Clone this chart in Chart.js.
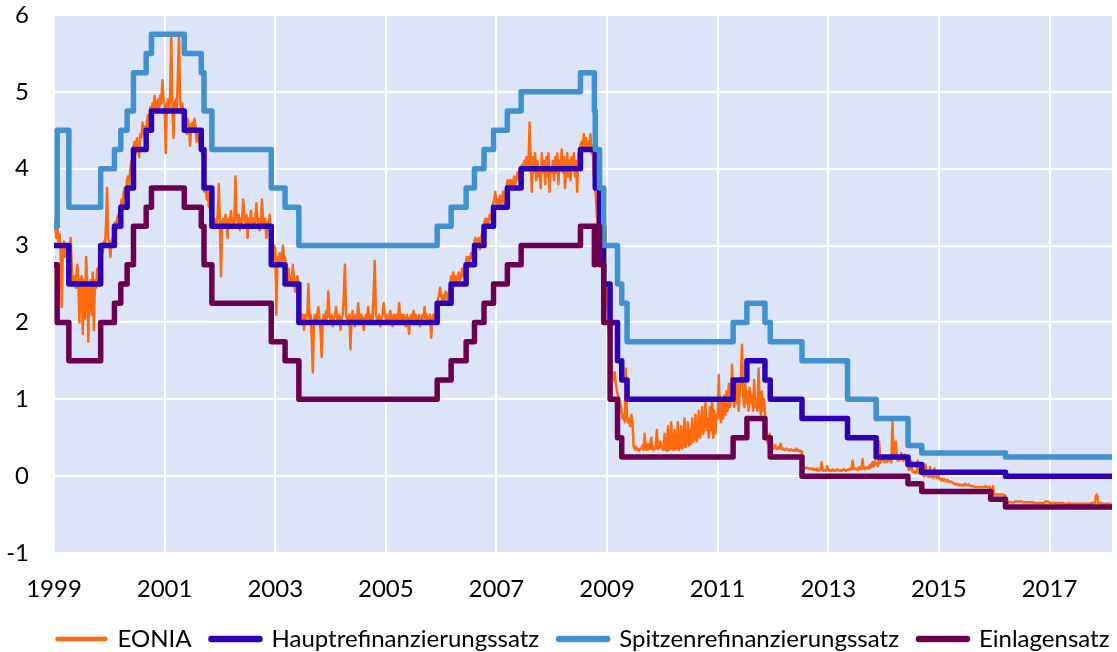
<!DOCTYPE html>
<html>
<head>
<meta charset="utf-8">
<script src="https://cdn.jsdelivr.net/npm/chart.js@4.4.1/dist/chart.umd.min.js"></script>
<style>
  html, body { margin: 0; padding: 0; background: #fff; overflow: hidden; }
  canvas { display: block; }
</style>
</head>
<body>
<canvas id="ratesChart" width="1117" height="652"></canvas>
<script>
// Axis
const xMin = 1999;
const xMax = 2018.13;
const yearTicks = [1999, 2001, 2003, 2005, 2007, 2009, 2011, 2013, 2015, 2017];

// Hauptrefinanzierungssatz (change dates and new rate)
const mroDates = ['1999-01-01', '1999-04-09', '1999-11-05', '2000-02-04', '2000-03-17', '2000-04-28', '2000-06-09',
  '2000-09-01', '2000-10-06', '2001-05-11', '2001-08-31', '2001-09-18', '2001-11-09', '2002-12-06', '2003-03-07',
  '2003-06-06', '2005-12-06', '2006-03-08', '2006-06-15', '2006-08-09', '2006-10-11', '2006-12-13', '2007-03-14',
  '2007-06-13', '2008-07-09', '2008-10-15', '2008-11-12', '2008-12-10', '2009-01-21', '2009-03-11', '2009-04-08',
  '2009-05-13', '2011-04-13', '2011-07-13', '2011-11-09', '2011-12-14', '2012-07-11', '2013-05-08', '2013-11-13',
  '2014-06-11', '2014-09-10', '2016-03-16'];
const mroRates = [3.00, 2.50, 3.00, 3.25, 3.50, 3.75, 4.25, 4.50, 4.75, 4.50, 4.25, 3.75, 3.25, 2.75, 2.50, 2.00,
  2.25, 2.50, 2.75, 3.00, 3.25, 3.50, 3.75, 4.00, 4.25, 3.75, 3.25, 2.50, 2.00, 1.50, 1.25, 1.00, 1.25, 1.50, 1.25,
  1.00, 0.75, 0.50, 0.25, 0.15, 0.05, 0.00];

// Spitzenrefinanzierungssatz
const mlfDates = ['1999-01-01', '1999-01-22', '1999-04-09', '1999-11-05', '2000-02-04', '2000-03-17', '2000-04-28',
  '2000-06-09', '2000-09-01', '2000-10-06', '2001-05-11', '2001-08-31', '2001-09-18', '2001-11-09', '2002-12-06',
  '2003-03-07', '2003-06-06', '2005-12-06', '2006-03-08', '2006-06-15', '2006-08-09', '2006-10-11', '2006-12-13',
  '2007-03-14', '2007-06-13', '2008-07-09', '2008-10-09', '2008-10-15', '2008-11-12', '2008-12-10', '2009-03-11',
  '2009-04-08', '2009-05-13', '2011-04-13', '2011-07-13', '2011-11-09', '2011-12-14', '2012-07-11', '2013-05-08',
  '2013-11-13', '2014-06-11', '2014-09-10', '2016-03-16'];
const mlfRates = [3.25, 4.50, 3.50, 4.00, 4.25, 4.50, 4.75, 5.25, 5.50, 5.75, 5.50, 5.25, 4.75, 4.25, 3.75, 3.50,
  3.00, 3.25, 3.50, 3.75, 4.00, 4.25, 4.50, 4.75, 5.00, 5.25, 4.75, 4.25, 3.75, 3.00, 2.50, 2.25, 1.75, 2.00, 2.25,
  2.00, 1.75, 1.50, 1.00, 0.75, 0.40, 0.30, 0.25];

// Einlagensatz
const dfDates = ['1999-01-01', '1999-01-22', '1999-04-09', '1999-11-05', '2000-02-04', '2000-03-17', '2000-04-28',
  '2000-06-09', '2000-09-01', '2000-10-06', '2001-05-11', '2001-08-31', '2001-09-18', '2001-11-09', '2002-12-06',
  '2003-03-07', '2003-06-06', '2005-12-06', '2006-03-08', '2006-06-15', '2006-08-09', '2006-10-11', '2006-12-13',
  '2007-03-14', '2007-06-13', '2008-07-09', '2008-10-09', '2008-10-15', '2008-11-12', '2008-12-10', '2009-01-21',
  '2009-03-11', '2009-04-08', '2011-04-13', '2011-07-13', '2011-11-09', '2011-12-14', '2012-07-11', '2014-06-11',
  '2014-09-10', '2015-12-09', '2016-03-16'];
const dfRates = [2.75, 2.00, 1.50, 2.00, 2.25, 2.50, 2.75, 3.25, 3.50, 3.75, 3.50, 3.25, 2.75, 2.25, 1.75, 1.50,
  1.00, 1.25, 1.50, 1.75, 2.00, 2.25, 2.50, 2.75, 3.00, 3.25, 2.75, 3.25, 2.75, 2.00, 1.00, 0.50, 0.25, 0.50, 0.75,
  0.50, 0.25, 0.00, -0.10, -0.20, -0.30, -0.40];

// EONIA, one value every 0.02 year (50 per row = one year)
const eoniaStart = 1999;
const eoniaStep = 0.02;
const eoniaValues = [
  // 1999
  3.20, 3.33, 3.10, 3.25, 3.05, 3.15, 2.90, 2.20, 3.00, 3.05, 2.85, 3.00, 2.95, 2.60, 2.55, 3.10, 2.75, 2.50, 2.55, 2.60,
  2.45, 2.75, 2.55, 2.00, 2.55, 2.60, 1.85, 2.55, 2.05, 2.85, 2.55, 1.75, 2.50, 2.55, 2.10, 2.65, 1.90, 2.55, 2.45, 2.70,
  2.50, 2.85, 2.90, 3.00, 2.90, 3.05, 3.00, 3.25, 3.75, 3.10,
  // 2000
  3.05, 2.85, 3.05, 3.10, 3.15, 3.30, 3.20, 3.35, 3.40, 3.30, 3.45, 3.60, 3.50, 3.70, 3.75, 3.60, 3.85, 3.90, 3.80, 4.00,
  4.10, 3.95, 4.30, 4.35, 4.20, 4.40, 4.30, 4.15, 4.45, 4.40, 4.60, 4.45, 4.55, 4.40, 4.60, 4.70, 4.55, 4.80, 4.70, 4.85,
  4.80, 4.95, 4.75, 4.85, 4.90, 4.75, 4.95, 4.85, 5.15, 4.90,
  // 2001
  4.85, 4.20, 4.80, 4.90, 4.75, 4.95, 5.70, 4.85, 4.40, 4.85, 4.90, 4.75, 5.20, 5.75, 4.90, 4.75, 4.85, 4.70, 4.55, 4.60,
  4.45, 4.65, 4.55, 4.30, 4.55, 4.60, 4.50, 4.65, 4.55, 4.35, 4.50, 4.45, 4.30, 4.25, 4.20, 4.10, 3.70, 3.80, 3.60, 3.70,
  3.50, 3.65, 3.40, 3.35, 3.30, 3.35, 3.25, 3.30, 3.40, 3.80,
  // 2002
  3.30, 2.60, 3.30, 3.35, 3.25, 3.40, 3.30, 3.10, 3.35, 3.30, 3.45, 3.30, 3.35, 3.25, 3.90, 3.35, 3.30, 3.40, 3.20, 3.35,
  3.30, 3.60, 3.35, 3.30, 3.40, 3.10, 3.35, 3.30, 3.45, 3.30, 3.35, 3.25, 3.35, 3.55, 3.30, 3.35, 3.20, 3.30, 3.60, 3.30,
  3.25, 3.35, 3.10, 3.30, 3.25, 3.40, 3.10, 2.90, 2.85, 3.00,
  // 2003
  2.95, 2.10, 2.85, 2.80, 2.90, 2.75, 2.85, 3.00, 2.80, 2.85, 2.60, 2.55, 2.70, 2.50, 2.60, 2.55, 2.75, 2.55, 2.40, 2.55,
  2.60, 2.50, 2.15, 2.10, 2.05, 2.10, 1.90, 2.10, 2.05, 2.10, 2.50, 2.05, 2.10, 1.80, 1.35, 2.05, 2.10, 2.00, 2.10, 2.20,
  2.05, 1.90, 1.55, 2.05, 2.10, 2.00, 2.15, 2.05, 2.40, 2.10,
  // 2004
  2.05, 2.10, 1.95, 2.05, 2.10, 2.20, 2.05, 2.00, 2.10, 1.90, 2.05, 2.10, 2.35, 2.75, 2.10, 2.05, 2.00, 2.10, 1.65, 2.05,
  2.15, 2.05, 1.95, 2.10, 2.05, 2.25, 2.05, 2.00, 2.10, 2.05, 1.90, 2.05, 2.10, 2.05, 2.20, 2.05, 2.00, 2.10, 2.05, 2.40,
  2.80, 2.10, 2.05, 2.00, 2.10, 1.95, 2.05, 2.10, 2.25, 2.10,
  // 2005
  2.05, 2.10, 2.00, 2.05, 2.15, 2.05, 1.95, 2.10, 2.05, 2.10, 2.00, 2.05, 2.25, 2.05, 2.10, 2.00, 2.10, 2.05, 1.95, 2.10,
  2.05, 1.85, 2.05, 2.10, 2.05, 2.15, 2.05, 2.10, 2.00, 2.05, 2.10, 1.95, 2.05, 2.10, 2.05, 2.20, 2.05, 2.10, 2.00, 2.05,
  2.10, 1.80, 2.05, 2.10, 2.05, 2.15, 2.10, 2.30, 2.35, 2.45,
  // 2006
  2.35, 2.30, 2.35, 2.25, 2.40, 2.35, 2.30, 2.40, 2.45, 2.60, 2.55, 2.65, 2.55, 2.60, 2.50, 2.60, 2.65, 2.55, 2.60, 2.70,
  2.60, 2.75, 2.70, 2.85, 2.75, 2.85, 2.80, 2.90, 2.85, 2.95, 3.05, 3.10, 3.00, 3.05, 3.10, 2.95, 3.10, 3.15, 3.20, 3.30,
  3.35, 3.25, 3.35, 3.30, 3.40, 3.35, 3.45, 3.55, 3.60, 3.70,
  // 2007
  3.55, 3.60, 3.55, 3.65, 3.55, 3.60, 3.70, 3.55, 3.65, 3.75, 3.85, 3.80, 3.85, 3.75, 3.85, 3.80, 3.90, 3.80, 3.85, 3.95,
  3.85, 4.00, 3.95, 4.05, 4.00, 4.10, 4.05, 4.15, 4.00, 4.10, 4.60, 4.05, 3.70, 4.15, 3.95, 4.20, 3.85, 4.10, 3.90, 4.00,
  3.75, 4.20, 3.95, 4.10, 3.80, 4.15, 3.90, 4.20, 3.70, 4.00,
  // 2008
  3.95, 4.10, 3.85, 4.15, 3.95, 4.20, 3.80, 4.10, 4.00, 4.25, 3.95, 4.15, 3.75, 4.05, 4.20, 3.90, 4.10, 3.85, 4.15, 4.00,
  4.20, 3.90, 4.10, 3.70, 4.20, 4.05, 4.30, 4.35, 4.25, 4.45, 4.30, 4.40, 4.25, 4.35, 4.30, 4.45, 4.20, 4.30, 3.90, 3.80,
  3.60, 3.35, 3.25, 3.15, 3.05, 3.20, 2.85, 2.50, 2.30, 2.50,
  // 2009
  2.35, 2.00, 1.80, 1.65, 1.45, 1.30, 1.25, 1.35, 1.20, 1.10, 1.05, 1.00, 0.95, 0.85, 0.75, 0.80, 0.70, 1.40, 0.75, 0.70,
  0.75, 0.65, 0.80, 0.70, 0.40, 0.35, 0.38, 0.34, 0.36, 0.33, 0.35, 0.36, 0.40, 0.34, 0.55, 0.35, 0.34, 0.42, 0.35, 0.36,
  0.50, 0.35, 0.34, 0.38, 0.36, 0.60, 0.35, 0.37, 0.45, 0.41,
  // 2010
  0.35, 0.34, 0.55, 0.35, 0.33, 0.65, 0.34, 0.36, 0.70, 0.35, 0.34, 0.60, 0.35, 0.36, 0.70, 0.34, 0.38, 0.65, 0.36, 0.40,
  0.75, 0.38, 0.45, 0.70, 0.40, 0.60, 0.42, 0.75, 0.45, 0.50, 0.80, 0.45, 0.55, 0.85, 0.50, 0.60, 0.90, 0.55, 0.70, 0.95,
  0.60, 0.75, 0.50, 0.90, 0.60, 1.00, 0.50, 0.85, 0.55, 0.80,
  // 2011
  0.75, 1.32, 0.80, 0.70, 0.95, 0.75, 1.05, 0.80, 1.10, 0.85, 1.20, 0.90, 1.00, 1.45, 1.05, 0.90, 1.15, 0.95, 1.25, 0.85,
  1.10, 1.30, 1.71, 1.05, 0.90, 1.20, 0.95, 1.10, 0.85, 1.15, 0.95, 1.05, 0.85, 1.25, 0.90, 1.00, 0.85, 1.40, 0.95, 0.80,
  1.10, 0.85, 1.00, 0.75, 0.60, 0.45, 0.40, 0.55, 0.40, 0.45,
  // 2012
  0.38, 0.36, 0.40, 0.37, 0.35, 0.38, 0.36, 0.42, 0.35, 0.36, 0.34, 0.35, 0.36, 0.35, 0.34, 0.33, 0.35, 0.34, 0.33, 0.34,
  0.33, 0.36, 0.33, 0.34, 0.32, 0.33, 0.32, 0.14, 0.12, 0.11, 0.10, 0.11, 0.10, 0.09, 0.10, 0.09, 0.10, 0.08, 0.09, 0.08,
  0.10, 0.07, 0.08, 0.09, 0.18, 0.08, 0.07, 0.08, 0.07, 0.13,
  // 2013
  0.08, 0.07, 0.08, 0.07, 0.09, 0.07, 0.08, 0.07, 0.09, 0.08, 0.07, 0.08, 0.07, 0.08, 0.09, 0.08, 0.07, 0.08, 0.09, 0.08,
  0.10, 0.09, 0.20, 0.09, 0.10, 0.09, 0.10, 0.08, 0.12, 0.10, 0.09, 0.22, 0.10, 0.09, 0.11, 0.10, 0.12, 0.10, 0.15, 0.12,
  0.18, 0.13, 0.20, 0.15, 0.17, 0.13, 0.45, 0.17, 0.20, 0.25,
  // 2014
  0.20, 0.18, 0.22, 0.19, 0.25, 0.20, 0.22, 0.18, 0.70, 0.25, 0.23, 0.45, 0.24, 0.20, 0.25, 0.21, 0.30, 0.25, 0.20, 0.28,
  0.23, 0.26, 0.12, 0.08, 0.10, 0.20, 0.06, 0.05, 0.06, 0.04, 0.05, 0.20, 0.04, 0.03, 0.05, 0.02, 0.01, 0.00, 0.15, 0.01,
  0.00, -0.01, 0.12, -0.01, 0.00, -0.02, 0.10, 0.00, -0.02, 0.05,
  // 2015
  -0.02, -0.04, -0.05, -0.03, -0.06, -0.04, -0.05, -0.07, -0.05, -0.07, -0.08, -0.07, -0.08, -0.09, -0.10, -0.11, -0.10, -0.11, -0.12, -0.11,
  -0.12, -0.12, -0.11, -0.12, -0.10, -0.12, -0.12, -0.11, -0.12, -0.13, -0.13, -0.13, -0.14, -0.14, -0.14, -0.14, -0.14, -0.14, -0.14, -0.14,
  -0.14, -0.14, -0.13, -0.14, -0.14, -0.14, -0.14, -0.20, -0.24, -0.13,
  // 2016
  -0.24, -0.24, -0.24, -0.24, -0.24, -0.24, -0.24, -0.24, -0.24, -0.25, -0.25, -0.31, -0.34, -0.34, -0.34, -0.34, -0.34, -0.35, -0.34, -0.33,
  -0.33, -0.33, -0.33, -0.33, -0.33, -0.33, -0.34, -0.34, -0.34, -0.34, -0.34, -0.34, -0.34, -0.34, -0.34, -0.34, -0.35, -0.35, -0.35, -0.35,
  -0.35, -0.35, -0.35, -0.35, -0.35, -0.35, -0.33, -0.33, -0.33, -0.33,
  // 2017
  -0.35, -0.35, -0.35, -0.35, -0.35, -0.35, -0.35, -0.35, -0.35, -0.35, -0.36, -0.35, -0.35, -0.36, -0.36, -0.36, -0.36, -0.36, -0.35, -0.36,
  -0.36, -0.36, -0.36, -0.36, -0.36, -0.36, -0.36, -0.36, -0.36, -0.36, -0.36, -0.36, -0.36, -0.36, -0.36, -0.36, -0.36, -0.36, -0.35, -0.35,
  -0.35, -0.35, -0.25, -0.24, -0.35, -0.35, -0.35, -0.35, -0.36, -0.36,
  // 2018
  -0.37, -0.36, -0.36, -0.36, -0.36, -0.36, -0.36
];

const seriesNames = ['EONIA', 'Hauptrefinanzierungssatz', 'Spitzenrefinanzierungssatz', 'Einlagensatz'];
const seriesColors = ['#ff6a0e', '#2f00b3', '#4191cf', '#6b0050'];

function toYear(s) {
  const [y, m, d] = s.split('-').map(Number);
  const start = Date.UTC(y, 0, 1);
  const end = Date.UTC(y + 1, 0, 1);
  return y + (Date.UTC(y, m - 1, d) - start) / (end - start);
}

function stepPoints(dates, rates) {
  const pts = dates.map((d, i) => ({ x: toYear(d), y: rates[i] }));
  pts.push({ x: xMax, y: rates[rates.length - 1] });
  return pts;
}

const eoniaPoints = eoniaValues.map((v, i) => ({ x: eoniaStart + i * eoniaStep, y: v }));

const font = { family: 'Lato', size: 24 };

// light blue plot area
const plotBackground = {
  id: 'plotBackground',
  beforeDraw(chart) {
    const { ctx, chartArea: a } = chart;
    ctx.save();
    ctx.fillStyle = '#dbe5f7';
    ctx.fillRect(a.left, a.top, a.right - a.left, a.bottom - a.top);
    ctx.restore();
  }
};

// centre the legend row under the plot and push it down to the bottom edge
const legendNudge = {
  id: 'legendNudge',
  afterLayout(chart) {
    const l = chart.legend;
    const pad = l.options.labels.padding;
    const rowWidth = l.lineWidths[0];
    const cx = (chart.chartArea.left + chart.chartArea.right) / 2;
    const start = cx - (rowWidth - pad) / 2;
    l.left = start - pad;
    l.right = start + rowWidth + 1;
    l.top += 9; l.bottom += 9;
  }
};

const stepStyle = {
  borderWidth: 5.5,
  pointRadius: 0,
  stepped: true,
  borderJoinStyle: 'round',
  borderCapStyle: 'round',
  fill: false
};

new Chart(document.getElementById('ratesChart'), {
  type: 'line',
  data: {
    datasets: [
      { label: seriesNames[0], data: eoniaPoints, borderColor: seriesColors[0], backgroundColor: seriesColors[0],
        borderWidth: 2.5, pointRadius: 0, borderJoinStyle: 'round', order: 4 },
      { label: seriesNames[1], data: stepPoints(mroDates, mroRates), borderColor: seriesColors[1],
        backgroundColor: seriesColors[1], ...stepStyle, order: 3 },
      { label: seriesNames[2], data: stepPoints(mlfDates, mlfRates), borderColor: seriesColors[2],
        backgroundColor: seriesColors[2], ...stepStyle, order: 2 },
      { label: seriesNames[3], data: stepPoints(dfDates, dfRates), borderColor: seriesColors[3],
        backgroundColor: seriesColors[3], ...stepStyle, order: 1 }
    ]
  },
  options: {
    responsive: false,
    animation: false,
    parsing: false,
    layout: { padding: { left: 0, right: 5, top: 15, bottom: 0 } },
    scales: {
      x: {
        type: 'linear',
        min: xMin,
        max: xMax,
        afterBuildTicks: s => { s.ticks = yearTicks.map(v => ({ value: v })); },
        afterFit: s => { s.height = 45; },
        ticks: { autoSkip: false, maxRotation: 0, padding: 22, color: '#000', font, callback: v => String(v) },
        grid: { color: '#ffffff', lineWidth: 2, drawTicks: false },
        border: { display: false }
      },
      y: {
        min: -1,
        max: 6,
        afterFit: s => { s.width = 54; s.paddingTop = 0; s.paddingBottom = 0; },
        ticks: { stepSize: 1, padding: 25, color: '#000', font, callback: v => String(v) },
        grid: { color: '#ffffff', lineWidth: 2, drawTicks: false },
        border: { display: false }
      }
    },
    plugins: {
      tooltip: { enabled: false },
      legend: {
        position: 'bottom',
        labels: {
          color: '#000',
          font,
          padding: 20,
          usePointStyle: true,
          pointStyleWidth: 48,
          sort: (a, b) => a.datasetIndex - b.datasetIndex,
          generateLabels(chart) {
            return Chart.defaults.plugins.legend.labels.generateLabels(chart).map(item => ({
              ...item,
              pointStyle: 'line',
              lineCap: 'round',
              lineWidth: item.datasetIndex === 0 ? 4.5 : 6.5
            }));
          }
        }
      }
    }
  },
  plugins: [plotBackground, legendNudge]
});
</script>
</body>
</html>
